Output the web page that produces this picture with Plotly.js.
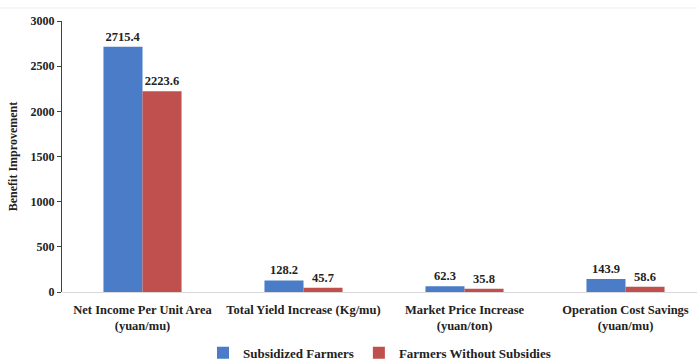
<!DOCTYPE html>
<html><head><meta charset="utf-8">
<script src="https://cdn.plot.ly/plotly-3.0.1.min.js"></script>
<style>html,body{margin:0;padding:0;background:#fff;}#chart{width:697px;height:360px;}</style>
</head><body><div id="chart"></div>
<script>
var categories = ["Net Income Per Unit Area<br>(yuan/mu)", "Total Yield Increase (Kg/mu)", "Market Price Increase<br>(yuan/ton)", "Operation Cost Savings<br>(yuan/mu)"];
var subsidized = [2715.4, 128.2, 62.3, 143.9];
var withoutSubsidies = [2223.6, 45.7, 35.8, 58.6];
var seriesNames = ["Subsidized Farmers", "Farmers Without Subsidies"];
var yTicks = [0, 500, 1000, 1500, 2000, 2500, 3000];

var FAM = "'Liberation Serif', 'Times New Roman', serif";
function tr(vals, name, color) {
  return {
    type: "bar", x: categories, y: vals, name: name,
    marker: {color: color},
    text: vals.map(function(v){return v.toFixed(1);}),
    textposition: "outside", cliponaxis: false,
    textfont: {family: FAM, size: 12.5, color: "#222", weight: "bold"}
  };
}
var data = [tr(subsidized, seriesNames[0], "#4A7CC7"), tr(withoutSubsidies, seriesNames[1], "#C0504D")];
var layout = {
  width: 697, height: 360,
  margin: {l: 62, r: 0, t: 21, b: 68},
  paper_bgcolor: "#fff", plot_bgcolor: "#fff",
  barmode: "group", bargap: 0.515, bargroupgap: 0,
  font: {family: FAM, size: 12, color: "#222"},
  showlegend: true,
  legend: {orientation: "h", x: 0.5, xanchor: "center", yref: "container", y: 0.02, yanchor: "middle",
           font: {family: FAM, size: 13, color: "#222", weight: "bold"}, traceorder: "normal"},
  xaxis: {type: "category", range: [-0.5, 3.444], showline: false, ticks: "outside", ticklen: 6, tickcolor: "rgba(0,0,0,0)", zeroline: false,
          tickfont: {family: FAM, size: 12.5, color: "#222", weight: "bold"}, fixedrange: true},
  yaxis: {range: [0, 3000], tickvals: yTicks, ticktext: yTicks.map(String), showgrid: false, zeroline: true,
          zerolinecolor: "#d9d9d9", zerolinewidth: 1,
          showline: true, linecolor: "#404040", linewidth: 1, ticks: "outside", ticklen: 4, tickcolor: "#404040",
          tickfont: {family: FAM, size: 12, color: "#222", weight: "bold"},
          title: {text: "Benefit Improvement", font: {family: FAM, size: 12, color: "#222", weight: "bold"}, standoff: 10}},
  shapes: [{type: "line", xref: "paper", yref: "paper", x0: -0.1, x1: 1, y0: 1.048, y1: 1.048, line: {color: "#eeeeee", width: 1}}]
};
Plotly.newPlot("chart", data, layout, {staticPlot: true});
</script></body></html>
